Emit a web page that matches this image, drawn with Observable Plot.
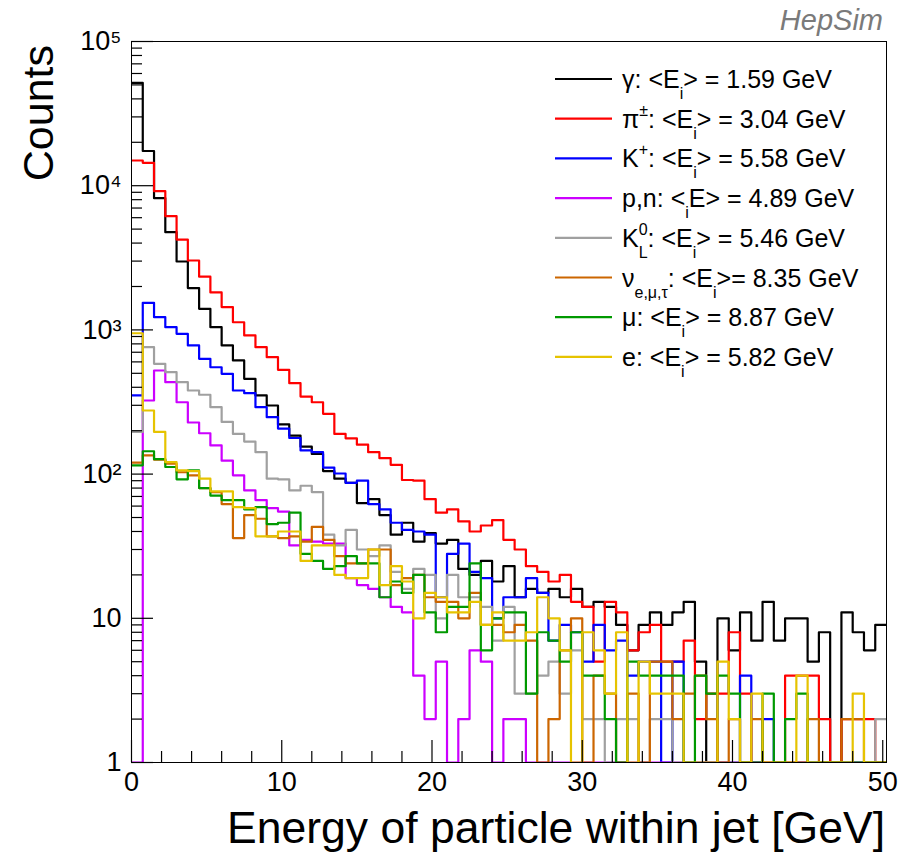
<!DOCTYPE html>
<html>
<head>
<meta charset="utf-8">
<script src="https://cdn.jsdelivr.net/npm/d3@7"></script>
<script src="https://cdn.jsdelivr.net/npm/@observablehq/plot@0.6"></script>
<style>
  body { margin: 0; background: #fff; }
  #chart svg { display: block; }
</style>
</head>
<body>
<div id="chart"></div>
<script>
// Histogram binning: 67 bins of 0.75 GeV
const binWidth = 0.75;
const nBins = 67;

// Counts per bin for each particle species
const gamma = [51700, 17400, 8190, 4760, 2980, 1950, 1400, 1045, 780, 614,
  458, 351, 299, 221, 185, 155, 138, 105, 93, 87,
  63, 67, 52, 38, 46, 34, 39, 33, 35, 22,
  20, 25, 18, 23, 14, 16, 15, 16, 14, 16,
  12, 13, 12, 9, 6, 9, 11, 9, 11, 13,
  5, 0, 10, 6, 11, 7, 13, 7, 10, 10,
  5, 8, 0, 11, 8, 6, 9];
const pion = [14950, 14400, 9170, 6150, 4230, 3030, 2340, 1820, 1440, 1130,
  915, 759, 647, 529, 427, 345, 315, 262, 190, 177,
  160, 142, 129, 116, 91, 90, 67, 54, 57, 47,
  40, 44, 48, 35, 30, 23, 21, 18, 20, 13,
  12, 5, 13, 11, 6, 8, 9, 5, 5, 7,
  2, 3, 3, 8, 3, 1, 0, 1, 4, 4,
  4, 2, 0, 2, 2, 2, 0];
const kaon = [351, 1540, 1225, 1045, 940, 780, 630, 551, 496, 380,
  364, 291, 248, 207, 178, 146, 142, 111, 101, 87,
  90, 62, 57, 46, 41, 40, 38, 14, 28, 33,
  21, 19, 10, 14, 14, 19, 15, 7, 9, 8,
  5, 9, 6, 7, 4, 5, 5, 0, 5, 1,
  0, 1, 0, 1, 4, 1, 2, 0, 1, 0,
  1, 0, 0, 1, 0, 0, 0];
const nucleon = [0, 324, 523, 434, 315, 228, 192, 158, 124, 98,
  77, 66, 58, 55, 32, 35, 34, 33, 33, 19,
  17, 16, 14, 12, 11, 4, 2, 5, 1, 2,
  6, 5, 1, 2, 2, 0, 0, 0, 0, 0,
  0, 0, 0, 0, 0, 0, 0, 0, 0, 0,
  0, 0, 0, 0, 0, 0, 0, 0, 0, 0,
  0, 0, 0, 0, 0, 0, 0];
const kaonLong = [196, 760, 582, 509, 434, 380, 355, 291, 230, 190,
  168, 142, 93, 92, 77, 83, 75, 38, 32, 41,
  30, 27, 32, 21, 16, 22, 20, 10, 20, 14,
  14, 12, 7, 12, 3, 3, 4, 5, 3, 6,
  2, 2, 1, 2, 2, 1, 2, 2, 1, 0,
  1, 0, 1, 0, 0, 1, 0, 0, 0, 0,
  0, 0, 0, 0, 1, 0, 2];
const neutrino = [120, 135, 126, 118, 103, 98, 80, 75, 62, 36,
  52, 49, 37, 36, 37, 34, 43, 35, 27, 24,
  24, 30, 30, 17, 19, 20, 14, 13, 13, 10,
  15, 9, 9, 8, 9, 7, 0, 2, 6, 10,
  0, 4, 3, 0, 3, 0, 5, 5, 2, 3,
  4, 2, 0, 2, 0, 2, 1, 1, 0, 0,
  2, 1, 0, 2, 2, 0, 0];
const muon = [115, 144, 127, 112, 92, 106, 80, 71, 66, 66,
  57, 59, 45, 46, 54, 28, 25, 22, 23, 27,
  24, 24, 14, 18, 15, 20, 11, 8, 12, 12,
  24, 6, 10, 11, 11, 3, 8, 7, 5, 8,
  4, 4, 2, 0, 5, 4, 4, 4, 4, 0,
  4, 3, 4, 3, 0, 0, 3, 0, 2, 3,
  0, 0, 0, 0, 0, 0, 0];
const electron = [948, 276, 196, 121, 106, 105, 93, 76, 76, 59,
  58, 37, 37, 40, 40, 25, 32, 32, 20, 19,
  19, 30, 17, 23, 18, 10, 15, 14, 11, 11,
  13, 9, 11, 7, 7, 8, 14, 10, 6, 0,
  8, 6, 3, 8, 0, 5, 3, 3, 3, 0,
  1, 1, 5, 2, 0, 3, 0, 1, 0, 4,
  0, 0, 0, 1, 3, 0, 0];

// Legend symbols and mean energies (GeV), in drawing order
const symbols = ["γ", "π^{±}", "K^{+}", "p,n", "K^{0}_{L}", "ν_{e,μ,τ}", "μ", "e"];
const meanEnergy = [1.59, 3.04, 5.58, 4.89, 5.46, 8.35, 8.87, 5.82];
const seriesCounts = [gamma, pion, kaon, nucleon, kaonLong, neutrino, muon, electron];
const seriesColors = ["#000000", "#ff0000", "#0000ff", "#cc00ff", "#a0a0a0", "#cc6600", "#009900", "#e6c300"];

// Axis ticks
const xMajor = [0, 10, 20, 30, 40, 50];
const xMinor = d3.range(2, 50, 2).filter(v => v % 10 !== 0);
const yMajor = [1, 10, 100, 1000, 10000, 100000];
const yMinor = yMajor.slice(0, -1).flatMap(d => d3.range(2, 10).map(m => d * m));
const supDigits = {2: "²", 3: "³", 4: "⁴", 5: "⁵"};
const yFormat = v => v === 1 ? "1" : v === 10 ? "10" : "10" + supDigits[Math.round(Math.log10(v))];

// Step outline of a histogram; empty bins sit on the axis floor
function outline(counts) {
  const pts = counts.map((c, i) => ({x: i * binWidth, y: Math.max(c, 1)}));
  pts.push({x: counts.length * binWidth, y: Math.max(counts[counts.length - 1], 1)});
  return pts;
}

const font = "'Liberation Sans', Arial, Helvetica, sans-serif";

const plot = Plot.plot({
  width: 911,
  height: 859,
  marginLeft: 131,
  marginRight: 25,
  marginTop: 41,
  marginBottom: 97,
  style: {fontFamily: font, background: "#fff", color: "#000"},
  x: {domain: [0, nBins * binWidth]},
  y: {type: "log", domain: [1, 1e5]},
  marks: [
    ...seriesCounts.map((counts, i) =>
      Plot.line(outline(counts), {x: "x", y: "y", curve: "step-after", stroke: seriesColors[i], strokeWidth: 2.2, clip: true})
    ),
    Plot.frame({stroke: "#000", strokeWidth: 1}),
    Plot.axisX(xMajor, {tickSize: -22, fill: "none", label: null, strokeWidth: 1.2}),
    Plot.axisX(xMinor, {tickSize: -11, fill: "none", label: null, strokeWidth: 1.2}),
    Plot.axisX(xMajor, {tickSize: 0, tickPadding: 9, fontSize: 27, label: null}),
    Plot.axisY(yMajor, {tickSize: -22, fill: "none", label: null, strokeWidth: 1.2}),
    Plot.axisY(yMinor, {tickSize: -11, fill: "none", label: null, strokeWidth: 1.2}),
    Plot.axisY(yMajor, {tickSize: 0, tickPadding: 10, fontSize: 27, tickFormat: yFormat, label: null})
  ]
});

document.getElementById("chart").appendChild(plot);

const svg = d3.select(plot);

// Axis titles and tag
svg.append("text")
  .attr("transform", "translate(53,45) rotate(-90)")
  .attr("text-anchor", "end")
  .attr("font-family", font).attr("font-size", 43)
  .text("Counts");
svg.append("text")
  .attr("x", 885).attr("y", 843)
  .attr("text-anchor", "end")
  .attr("font-family", font).attr("font-size", 44.5)
  .text("Energy of particle within jet [GeV]");
svg.append("text")
  .attr("x", 883).attr("y", 30)
  .attr("text-anchor", "end")
  .attr("font-family", font).attr("font-size", 29).attr("font-style", "italic")
  .attr("fill", "#7a7a7a")
  .text("HepSim");

// Legend: labels use ^{...} for superscripts and _{...} for subscripts
function legendLabel(i) {
  const m = meanEnergy[i].toFixed(2);
  if (i === 3) return `${symbols[i]}: <_{i}E> = ${m} GeV`;
  if (i === 5) return `${symbols[i]}: <E_{i}>= ${m} GeV`;
  return `${symbols[i]}: <E_{i}> = ${m} GeV`;
}

function writeRich(textSel, label) {
  const parts = [];
  const re = /([_^])\{([^}]*)\}/g;
  let last = 0, mt;
  while ((mt = re.exec(label)) !== null) {
    if (mt.index > last) parts.push({s: label.slice(last, mt.index), k: "n"});
    parts.push({s: mt[2], k: mt[1] === "_" ? "sub" : "sup"});
    last = re.lastIndex;
  }
  if (last < label.length) parts.push({s: label.slice(last), k: "n"});
  const shift = {n: 0, sub: 11, sup: -12};
  let cur = 0, prev = null, prevNode = null;
  parts.forEach(p => {
    const ts = textSel.append("tspan").text(p.s);
    ts.attr("dy", shift[p.k] - cur);
    cur = shift[p.k];
    if (p.k !== "n") ts.attr("font-size", 16);
    // stacked super/subscript (K^0_L)
    if (p.k === "sub" && prev === "sup" && prevNode) {
      ts.attr("dx", -prevNode.getComputedTextLength());
    }
    prev = p.k;
    prevNode = ts.node();
  });
}

const legend = svg.append("g")
  .attr("font-family", font).attr("font-size", 25)
  .attr("text-anchor", "start");
symbols.forEach((_, i) => {
  const base = 88 + i * 39.7;
  legend.append("line")
    .attr("x1", 555).attr("x2", 612)
    .attr("y1", base - 9).attr("y2", base - 9)
    .attr("stroke", seriesColors[i]).attr("stroke-width", 2.2);
  const t = legend.append("text")
    .attr("x", 622).attr("y", base)
    .attr("text-anchor", "start");
  writeRich(t, legendLabel(i));
});
</script>
</body>
</html>
